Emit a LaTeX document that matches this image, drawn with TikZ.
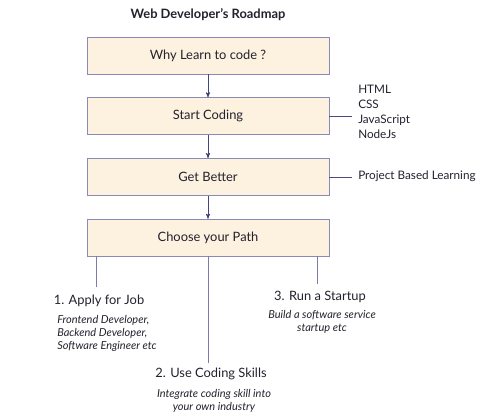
\documentclass[tikz,border=0pt]{standalone}
\usepackage{fontspec}
\setmainfont{Lato}
\usepackage{tikz}
\usetikzlibrary{arrows,positioning}

\definecolor{boxfill}{HTML}{FDF1DF}
\definecolor{boxline}{HTML}{8A8AB6}
\definecolor{navy}{HTML}{2E2E6A}
\definecolor{ink}{HTML}{22222E}

\begin{document}
\begin{tikzpicture}[x=0.03cm,y=-0.03cm,>=stealth',semithick,
  node distance=0.69cm,text=ink]
  \tikzstyle{stage}=[draw=boxline,fill=boxfill,minimum width=7.26cm,
    minimum height=1.11cm,font=\fontsize{11}{13}\selectfont]
  \tikzstyle{side}=[font=\fontsize{10}{12.8}\selectfont,align=left]
  \tikzstyle{path}=[font=\fontsize{11}{14}\selectfont]
  \tikzstyle{note}=[font=\fontsize{9.4}{11.2}\selectfont\itshape]
  \useasboundingbox (0,0) rectangle (485,417);

  \node[font=\bfseries\fontsize{11}{13}\selectfont] (title) at (208,15) {Web Developer’s Roadmap};

  \node[stage]         (why)    at (208,55.5) {Why Learn to code ?};
  \node[stage]         (start)  [below=of why]    {Start Coding};
  \node[stage]         (better) [below=of start]  {Get Better};
  \node[stage]         (choose) [below=of better] {Choose your Path};

  \node[side,anchor=west] (langs) at (354,112) {HTML\\CSS\\JavaScript\\NodeJs};
  \node[side,anchor=west] (proj)  at (354,176.5) {Project Based Learning};

  \node[path] (job)     at (99,301)  {1. Apply for Job};
  \node[note,align=left,anchor=north west] (jobs) at (53,311)
    {Frontend Developer,\\Backend Developer,\\Software Engineer etc};
  \node[path] (skills)  at (211,374) {2. Use Coding Skills};
  \node[note,align=center,anchor=north] (skill) at (214,385)
    {Integrate coding skill into\\your own industry};
  \node[path] (startup) at (320,297) {3. Run a Startup};
  \node[note,align=center,anchor=north] (build) at (322,306)
    {Build a software service\\startup etc};

  % free ends of the plain lines
  \coordinate (langsend)   at (352,115.5);
  \coordinate (projend)    at (352,176.5);
  \coordinate (jobtop)     at (96,287);
  \coordinate (skilltop)   at (208,363);
  \coordinate (startuptop) at (317,284);

  \path[draw=navy!75!boxline] (why) edge [->] (start)
        (start) edge [->] (better)
        (better) edge [->] (choose);
  \draw[navy!70!boxline] (start.east) -- (start.east -| langsend);
  \draw[navy!70!boxline] (better.east) -- (better.east -| projend);
  \draw[boxline!85!navy] (choose.south -| jobtop) -- (jobtop);
  \draw[boxline!85!navy] (choose.south -| skilltop) -- (skilltop);
  \draw[boxline!85!navy] (choose.south -| startuptop) -- (startuptop);
\end{tikzpicture}
\end{document}
